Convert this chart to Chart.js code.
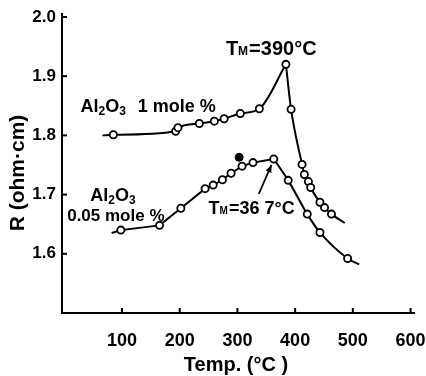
<!DOCTYPE html>
<html>
<head>
<meta charset="utf-8">
<script src="https://cdn.jsdelivr.net/npm/chart.js@4/dist/chart.umd.min.js"></script>
<style>
html,body{margin:0;padding:0;background:#fff;}
#wrap{width:426px;height:376px;}
</style>
</head>
<body>
<div id="wrap"><canvas id="c" width="426" height="376"></canvas></div>
<script>
// ---- data ----
const xTicks = [100, 200, 300, 400, 500, 600];
const yTicks = [1.6, 1.7, 1.8, 1.9, 2.0];

// Al2O3 1 mole %
const t1Rise = [66, 85, 193, 197, 234, 260, 277, 305, 338, 384];
const r1Rise = [1.800, 1.801, 1.807, 1.813, 1.820, 1.824, 1.828, 1.837, 1.845, 1.920];
const t1Fall = [384, 393, 412, 416, 423, 427, 443, 451, 463, 486];
const r1Fall = [1.920, 1.844, 1.751, 1.734, 1.722, 1.712, 1.687, 1.678, 1.667, 1.652];

// Al2O3 0.05 mole %
const t2Rise = [82, 98, 165, 202, 244, 258, 274, 289, 308, 327, 363];
const r2Rise = [1.635, 1.640, 1.648, 1.677, 1.710, 1.716, 1.725, 1.736, 1.748, 1.754, 1.760];
const t2Fall = [363, 388, 421, 443, 491, 511];
const r2Fall = [1.760, 1.724, 1.667, 1.636, 1.592, 1.582];

// isolated filled point
const tDot = [303];
const rDot = [1.763];

const FONT = '"Liberation Sans", Arial, sans-serif';

function pts(xs, ys) { return xs.map((x, i) => ({x: x, y: ys[i]})); }
function radii(n, skipFirst, skipLast) {
  return Array.from({length: n}, (_, i) => ((skipFirst && i === 0) || (skipLast && i === n - 1)) ? 0 : 3.6);
}

const lineBase = {
  borderColor: '#000', borderWidth: 2, pointBackgroundColor: '#fff',
  pointBorderColor: '#000', pointBorderWidth: 1.8, pointHoverRadius: 0,
  fill: false, showLine: true
};

function drawRich(ctx, parts, x, y) {
  let cx = x;
  parts.forEach(p => {
    ctx.font = 'bold ' + p.s + 'px ' + FONT;
    ctx.fillText(p.t, cx, y + (p.dy || 0));
    cx += ctx.measureText(p.t).width + (p.gap || 0);
  });
}

const annot = {
  id: 'annot',
  afterDraw(chart) {
    const ctx = chart.ctx, xs = chart.scales.x, ys = chart.scales.y;
    const a = chart.chartArea;
    ctx.save();
    ctx.strokeStyle = '#000'; ctx.fillStyle = '#000';
    // inside tick marks
    ctx.lineWidth = 2;
    xTicks.forEach(v => {
      const px = xs.getPixelForValue(v);
      ctx.beginPath(); ctx.moveTo(px, a.bottom); ctx.lineTo(px, a.bottom - 5); ctx.stroke();
    });
    yTicks.forEach(v => {
      const py = ys.getPixelForValue(v);
      ctx.beginPath(); ctx.moveTo(a.left, py); ctx.lineTo(a.left + 5, py); ctx.stroke();
    });
    // annotations
    ctx.textBaseline = 'alphabetic'; ctx.textAlign = 'left';
    const P = (t, r) => [xs.getPixelForValue(t), ys.getPixelForValue(r)];
    let p;
    p = P(28, 1.839);
    drawRich(ctx, [{t:'Al', s:18}, {t:'2', s:12, dy:3}, {t:'O', s:18}, {t:'3', s:12, dy:3, gap:12}, {t:'1 mole %', s:18}], p[0], p[1]);
    p = P(45, 1.689);
    drawRich(ctx, [{t:'Al', s:18}, {t:'2', s:12, dy:3}, {t:'O', s:18}, {t:'3', s:12, dy:3}], p[0], p[1]);
    p = P(5, 1.655);
    drawRich(ctx, [{t:'0.05 mole %', s:17}], p[0], p[1]);
    p = P(280, 1.936);
    drawRich(ctx, [{t:'T', s:20}, {t:'M', s:12, gap:1}, {t:'=390°C', s:20}], p[0], p[1]);
    p = P(250, 1.667);
    drawRich(ctx, [{t:'T', s:18}, {t:'M', s:10, gap:1}, {t:'=36 7°C', s:18}], p[0], p[1]);
    // arrow
    const s = P(337, 1.701), e = P(359, 1.750);
    ctx.lineWidth = 1.8;
    ctx.beginPath(); ctx.moveTo(s[0], s[1]); ctx.lineTo(e[0], e[1]); ctx.stroke();
    const ang = Math.atan2(e[1] - s[1], e[0] - s[0]);
    ctx.beginPath();
    ctx.moveTo(e[0], e[1]);
    ctx.lineTo(e[0] - 8 * Math.cos(ang - 0.4), e[1] - 8 * Math.sin(ang - 0.4));
    ctx.lineTo(e[0] - 8 * Math.cos(ang + 0.4), e[1] - 8 * Math.sin(ang + 0.4));
    ctx.closePath(); ctx.fill();
    // axis titles
    ctx.font = 'bold 21px ' + FONT;
    ctx.textAlign = 'center'; ctx.textBaseline = 'middle';
    ctx.save();
    ctx.translate(18, 173); ctx.rotate(-Math.PI / 2);
    ctx.fillText('R (ohm·cm)', 0, 0);
    ctx.restore();
    ctx.font = 'bold 20px ' + FONT;
    ctx.fillText('Temp. (°C )', 236, 365);
    ctx.restore();
  }
};

new Chart(document.getElementById('c'), {
  type: 'line',
  data: {
    datasets: [
      Object.assign({}, lineBase, {data: pts(t1Rise, r1Rise), cubicInterpolationMode: 'monotone', pointRadius: radii(t1Rise.length, true, false)}),
      Object.assign({}, lineBase, {data: pts(t1Fall, r1Fall), cubicInterpolationMode: 'monotone', pointRadius: radii(t1Fall.length, true, true)}),
      Object.assign({}, lineBase, {data: pts(t2Rise, r2Rise), tension: 0, pointRadius: radii(t2Rise.length, true, false)}),
      Object.assign({}, lineBase, {data: pts(t2Fall, r2Fall), cubicInterpolationMode: 'monotone', pointRadius: radii(t2Fall.length, true, true)}),
      {data: pts(tDot, rDot), showLine: false, pointRadius: 4, pointBackgroundColor: '#000', pointBorderColor: '#000', pointHoverRadius: 0}
    ]
  },
  options: {
    responsive: false, animation: false, devicePixelRatio: 1,
    layout: {padding: {top: 14, right: 12, left: 0, bottom: 0}},
    plugins: {legend: {display: false}, tooltip: {enabled: false}},
    events: [],
    scales: {
      x: {
        type: 'linear', min: -4, max: 606,
        afterBuildTicks: s => { s.ticks = xTicks.map(v => ({value: v})); },
        afterFit: s => { s.height = 63; s.paddingLeft = 0; s.paddingRight = 0; },
        grid: {display: false, drawTicks: false},
        border: {display: true, color: '#000', width: 2},
        ticks: {color: '#000', padding: 17, maxRotation: 0, font: {family: FONT, size: 18, weight: 'bold'}}
      },
      y: {
        type: 'linear', min: 1.5, max: 2.005,
        afterBuildTicks: s => { s.ticks = yTicks.map(v => ({value: v})); },
        afterFit: s => { s.width = 62; s.paddingTop = 0; s.paddingBottom = 0; },
        grid: {display: false, drawTicks: false},
        border: {display: true, color: '#000', width: 2},
        ticks: {color: '#000', padding: 6, font: {family: FONT, size: 17, weight: 'bold'},
                callback: v => Number(v).toFixed(1)}
      }
    }
  },
  plugins: [annot]
});
</script>
</body>
</html>
